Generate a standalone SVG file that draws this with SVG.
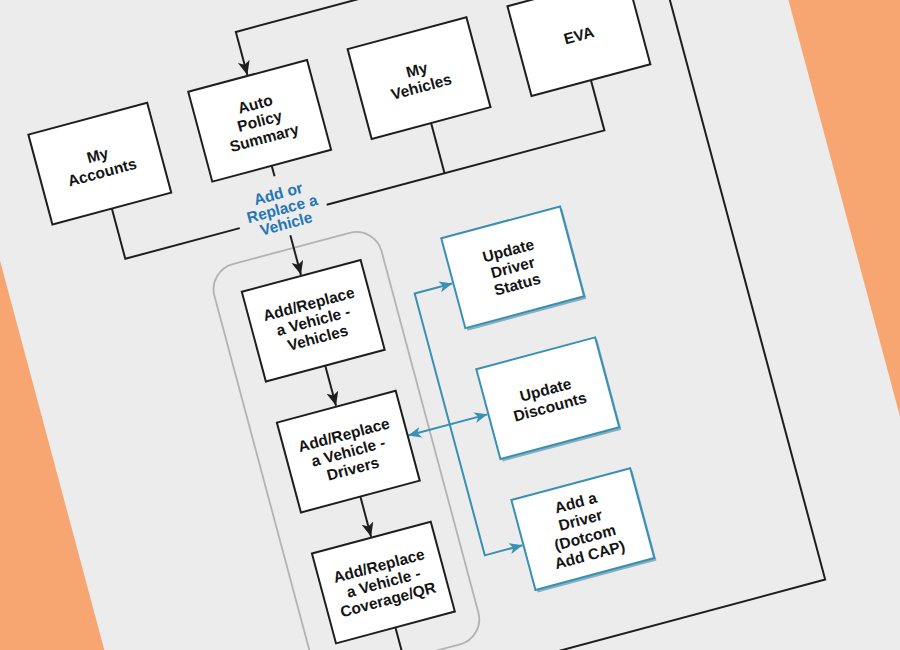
<svg xmlns="http://www.w3.org/2000/svg" width="900" height="650" viewBox="0 0 900 650">
  <style>
    .box{fill:#ffffff;stroke:#1e1e1e;stroke-width:2}
    .bbox{fill:#ffffff;stroke:#3a90b2;stroke-width:2}
    .shadow{fill:#86afc2}
    .t{font-family:"Liberation Sans",Arial,sans-serif;font-weight:bold;font-size:15.5px;fill:#141414;text-anchor:middle}
    .lbl{font-family:"Liberation Sans",Arial,sans-serif;font-weight:bold;font-size:15.5px;fill:#2476b5;text-anchor:middle}
    .k{fill:none;stroke:#1e1e1e;stroke-width:2}
    .b{fill:none;stroke:#3a90b2;stroke-width:2}
  </style>
  <defs>
    <marker id="ak" markerUnits="userSpaceOnUse" markerWidth="15" markerHeight="13" refX="14" refY="6" orient="auto-start-reverse">
      <path d="M0,0 L14,6 L0,12 L3.5,6 z" fill="#1e1e1e"/>
    </marker>
    <marker id="ab" markerUnits="userSpaceOnUse" markerWidth="14" markerHeight="12" refX="13" refY="5.5" orient="auto-start-reverse">
      <path d="M0,0 L13,5.5 L0,11 L3.5,5.5 z" fill="#3a90b2"/>
    </marker>
  </defs>
  <rect x="0" y="0" width="900" height="650" fill="#f7a672"/>
  <g transform="rotate(-15 450 325)">
    <rect x="32" y="-420" width="829" height="1600" fill="#ececec"/>
    <rect id="container" x="230" y="210" width="173" height="426" rx="26" fill="none" stroke="#b3b3b3" stroke-width="1.8"/>

    <g id="connectors">
      <path class="k" d="M153.5,125 V177 H272"/>
      <path class="k" d="M362,177 H649.5 V125"/>
      <path class="k" d="M484,125 V177"/>
      <path class="k" d="M319,125 V136"/>
      <path class="k" d="M319,197 V238" marker-end="url(#ak)"/>
      <path class="k" d="M319,332 V373.5" marker-end="url(#ak)"/>
      <path class="k" d="M319,467.5 V509" marker-end="url(#ak)"/>
      <path class="k" d="M319,603 V668 H746.5 V-13.5 H319 V31" marker-end="url(#ak)"/>
      <path class="b" d="M463,285.5 H424 V556.5 H463" marker-start="url(#ab)" marker-end="url(#ab)"/>
      <path class="b" d="M381,421 H463" marker-start="url(#ab)" marker-end="url(#ab)"/>
    </g>

    <g id="label-add-replace">
      <text class="lbl" x="318" y="159">Add or</text>
      <text class="lbl" x="318" y="174.5">Replace a</text>
      <text class="lbl" x="318" y="190">Vehicle</text>
    </g>

    <g id="my-accounts">
      <rect class="box" x="92" y="32" width="123" height="93"/>
      <text class="t" x="153.5" y="75.25">My</text>
      <text class="t" x="153.5" y="92.75">Accounts</text>
    </g>
    <g id="auto-policy-summary">
      <rect class="box" x="257.5" y="32" width="123" height="93"/>
      <text class="t" x="319" y="66.5">Auto</text>
      <text class="t" x="319" y="84">Policy</text>
      <text class="t" x="319" y="101.5">Summary</text>
    </g>
    <g id="my-vehicles">
      <rect class="box" x="422.5" y="32" width="123" height="93"/>
      <text class="t" x="484" y="75.25">My</text>
      <text class="t" x="484" y="92.75">Vehicles</text>
    </g>
    <g id="eva">
      <rect class="box" x="588" y="32" width="123" height="93"/>
      <text class="t" x="649.5" y="84">EVA</text>
    </g>

    <g id="arv-vehicles">
      <rect class="box" x="257.5" y="239" width="123" height="93"/>
      <text class="t" x="319" y="273.5">Add/Replace</text>
      <text class="t" x="319" y="291">a Vehicle -</text>
      <text class="t" x="319" y="308.5">Vehicles</text>
    </g>
    <g id="arv-drivers">
      <rect class="box" x="257.5" y="374.5" width="123" height="93"/>
      <text class="t" x="319" y="409">Add/Replace</text>
      <text class="t" x="319" y="426.5">a Vehicle -</text>
      <text class="t" x="319" y="444">Drivers</text>
    </g>
    <g id="arv-coverage">
      <rect class="box" x="257.5" y="510" width="123" height="93"/>
      <text class="t" x="319" y="544.5">Add/Replace</text>
      <text class="t" x="319" y="562">a Vehicle -</text>
      <text class="t" x="319" y="579.5">Coverage/QR</text>
    </g>

    <g id="update-driver-status">
      <rect class="shadow" x="465.5" y="242" width="123" height="93"/>
      <rect class="bbox" x="464" y="239" width="123" height="93"/>
      <text class="t" x="525.5" y="273.5">Update</text>
      <text class="t" x="525.5" y="291">Driver</text>
      <text class="t" x="525.5" y="308.5">Status</text>
    </g>
    <g id="update-discounts">
      <rect class="shadow" x="465.5" y="377.5" width="123" height="93"/>
      <rect class="bbox" x="464" y="374.5" width="123" height="93"/>
      <text class="t" x="525.5" y="417.75">Update</text>
      <text class="t" x="525.5" y="435.25">Discounts</text>
    </g>
    <g id="add-a-driver">
      <rect class="shadow" x="465.5" y="513" width="123" height="93"/>
      <rect class="bbox" x="464" y="510" width="123" height="93"/>
      <text class="t" x="525.5" y="534.5">Add a</text>
      <text class="t" x="525.5" y="552.5">Driver</text>
      <text class="t" x="525.5" y="570.5">(Dotcom</text>
      <text class="t" x="525.5" y="588.5">Add CAP)</text>
    </g>
  </g>
</svg>
